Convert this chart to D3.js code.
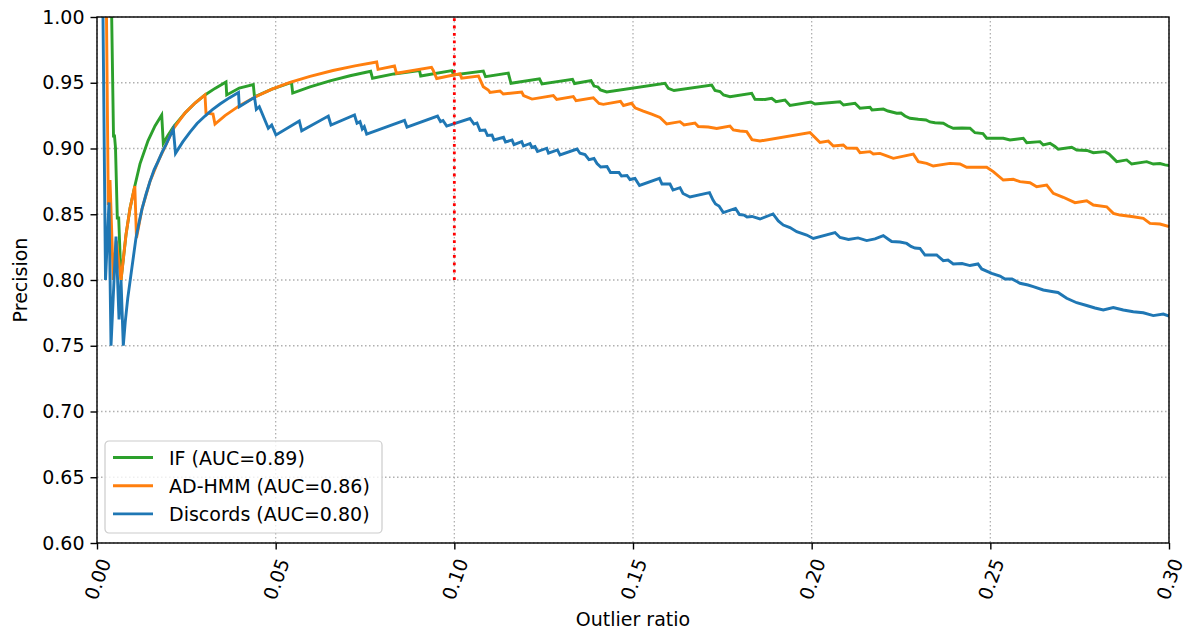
<!DOCTYPE html>
<html>
<head>
<meta charset="utf-8">
<script src="https://cdn.jsdelivr.net/npm/d3@7"></script>
<style>
  html, body { margin: 0; padding: 0; background: #fff; }
  svg text { font-family: "DejaVu Sans", sans-serif; fill: #000; }
</style>
</head>
<body>
<svg id="chart" width="1187" height="630"></svg>
<script>
// Precision vs. outlier ratio for three detectors: [outlier ratio, precision]
const ifCurve = [
  [0.00411,1.000],[0.00462,0.9095],[0.00490,0.9095],[0.00518,0.9004],[0.00568,0.8471],[0.00607,0.8471],
  [0.00672,0.800],[0.00812,0.8345],[0.00924,0.8545],[0.01058,0.8715],[0.01203,0.8883],[0.01427,0.9058],
  [0.01623,0.9172],[0.01811,0.9255],[0.01855,0.9040],[0.01987,0.9100],[0.02135,0.9162],[0.02463,0.9270],
  [0.02743,0.9346],[0.03022,0.9407],[0.03302,0.9457],[0.03610,0.9506],[0.03630,0.9407],[0.03982,0.9460],
  [0.04374,0.9486],[0.04408,0.9392],[0.04897,0.9451],[0.05443,0.9502],[0.05477,0.9422],[0.05961,0.9469],
  [0.06520,0.9514],[0.07080,0.9553],[0.07659,0.9587],[0.07710,0.9534],[0.08311,0.9567],[0.09025,0.9593],
  [0.09059,0.9551],[0.09934,0.9593],[0.09977,0.9559],[0.10811,0.9589],[0.10872,0.9546],[0.11510,0.9574],
  [0.11586,0.9496],[0.12383,0.9529],[0.12453,0.9491],[0.13307,0.9526],[0.13363,0.9494],[0.13825,0.9516],
  [0.13909,0.9475],[0.14020,0.9468],[0.14090,0.9445],[0.14264,0.9430],[0.15895,0.9496],[0.15988,0.9458],
  [0.16148,0.9441],[0.17202,0.9483],[0.17295,0.9441],[0.17435,0.9433],[0.17533,0.9407],[0.17714,0.9394],
  [0.18322,0.9420],[0.18414,0.9374],[0.18694,0.9373],[0.18882,0.9382],[0.19002,0.9356],[0.19254,0.9369],
  [0.19393,0.9327],[0.19981,0.9354],[0.20093,0.9338],[0.20793,0.9356],[0.20891,0.9331],[0.21213,0.9344],
  [0.21353,0.9306],[0.21633,0.9313],[0.21689,0.9293],[0.22005,0.9300],[0.22136,0.9285],[0.22380,0.9268],
  [0.22500,0.9270],[0.22612,0.9247],[0.22752,0.9230],[0.22984,0.9222],[0.23200,0.9217],[0.23311,0.9202],
  [0.23451,0.9196],[0.23684,0.9192],[0.23815,0.9171],[0.23963,0.9154],[0.24207,0.9156],[0.24431,0.9154],
  [0.24570,0.9120],[0.24794,0.9114],[0.24898,0.9078],[0.25363,0.9078],[0.25550,0.9065],[0.25922,0.9078],
  [0.26017,0.9044],[0.26390,0.9052],[0.26482,0.9027],[0.26670,0.9040],[0.26810,0.9015],[0.26902,0.8994],
  [0.27277,0.9009],[0.27417,0.8989],[0.27705,0.8985],[0.27882,0.8968],[0.28209,0.8976],[0.28321,0.8958],
  [0.28536,0.8900],[0.28816,0.8913],[0.28956,0.8882],[0.29376,0.8900],[0.29561,0.8882],[0.29748,0.8886],
  [0.29888,0.8875],[0.30000,0.8871]
];

const hmmCurve = [
  [0.00266,1.000],[0.00316,0.857],[0.00364,0.876],[0.00456,0.800],[0.00540,0.830],[0.00672,0.800],
  [0.00812,0.8345],[0.00924,0.8545],[0.01058,0.8715],[0.01105,0.832],[0.01259,0.854],[0.01483,0.875],
  [0.01707,0.890],[0.01931,0.903],[0.02135,0.915],[0.02463,0.927],[0.02743,0.9346],[0.03022,0.9407],
  [0.03050,0.9270],[0.03246,0.9262],[0.03302,0.9186],[0.03582,0.9250],[0.03988,0.9326],[0.04422,0.9392],
  [0.04897,0.9451],[0.05401,0.9502],[0.05961,0.9549],[0.06604,0.9593],[0.07220,0.9628],[0.07827,0.9658],
  [0.07864,0.9602],[0.08325,0.9627],[0.08381,0.9572],[0.09361,0.9617],[0.09403,0.9597],[0.09506,0.9532],
  [0.09977,0.9559],[0.10159,0.9567],[0.10206,0.9534],[0.10676,0.9551],[0.10810,0.9470],[0.10950,0.9445],
  [0.10998,0.9427],[0.11278,0.9437],[0.11370,0.9414],[0.11885,0.9430],[0.11936,0.9403],[0.12174,0.9376],
  [0.12770,0.9403],[0.12865,0.9373],[0.13329,0.9395],[0.13405,0.9364],[0.13889,0.9386],[0.14049,0.9342],
  [0.14169,0.9336],[0.14650,0.9359],[0.14734,0.9327],[0.14963,0.9344],[0.15056,0.9310],[0.15288,0.9285],
  [0.15523,0.9262],[0.15755,0.9236],[0.15943,0.9186],[0.16315,0.9204],[0.16427,0.9179],[0.16735,0.9194],
  [0.16827,0.9167],[0.17107,0.9163],[0.17342,0.9152],[0.17714,0.9171],[0.17807,0.9141],[0.17994,0.9133],
  [0.18182,0.9128],[0.18330,0.9068],[0.18554,0.9057],[0.19953,0.9122],[0.20093,0.9084],[0.20233,0.9046],
  [0.20466,0.9056],[0.20606,0.9019],[0.20886,0.9027],[0.20980,0.9004],[0.21260,0.9002],[0.21353,0.8968],
  [0.21633,0.8976],[0.21725,0.8958],[0.21912,0.8963],[0.22100,0.8944],[0.22285,0.8925],[0.22844,0.8958],
  [0.22984,0.8900],[0.23218,0.8887],[0.23403,0.8867],[0.23871,0.8887],[0.24151,0.8882],[0.24338,0.8857],
  [0.24898,0.8857],[0.25082,0.8824],[0.25362,0.8760],[0.25642,0.8766],[0.25830,0.8748],[0.26110,0.8740],
  [0.26297,0.8710],[0.26577,0.8722],[0.26762,0.8659],[0.27042,0.8629],[0.27369,0.8588],[0.27697,0.8603],
  [0.27882,0.8570],[0.28257,0.8557],[0.28442,0.8507],[0.28629,0.8494],[0.29002,0.8481],[0.29281,0.8469],
  [0.29468,0.8431],[0.29748,0.8426],[0.30000,0.8407]
];

const discordsCurve = [
  [0.00168,1.000],[0.00238,0.800],[0.00336,0.859],[0.00392,0.750],[0.00532,0.833],[0.00616,0.770],
  [0.00672,0.800],[0.00736,0.750],[0.00790,0.768],[0.00860,0.786],[0.00960,0.806],[0.01091,0.832],
  [0.01180,0.844],[0.01259,0.854],[0.01370,0.865],[0.01483,0.875],[0.01600,0.884],[0.01707,0.890],
  [0.01820,0.897],[0.01931,0.903],[0.02135,0.915],[0.02197,0.8963],[0.02400,0.905],[0.02603,0.9125],
  [0.02800,0.9190],[0.03022,0.9247],[0.03230,0.9295],[0.03442,0.9338],[0.03700,0.9385],[0.03960,0.9426],
  [0.03982,0.9318],[0.04408,0.9389],[0.04458,0.9297],
  [0.04542,0.9318],[0.04794,0.9154],[0.04889,0.9179],[0.05009,0.9103],[0.05661,0.9209],[0.05729,0.9135],
  [0.06473,0.9247],[0.06548,0.9179],[0.07206,0.9255],[0.07276,0.9192],[0.07360,0.9204],[0.07424,0.9148],
  [0.07480,0.9166],[0.07547,0.9110],[0.08605,0.9214],[0.08675,0.9163],[0.09529,0.9247],[0.09613,0.9204],
  [0.09683,0.9213],[0.09786,0.9171],[0.10438,0.9228],[0.10550,0.9186],[0.10634,0.9194],[0.10718,0.9137],
  [0.10858,0.9141],[0.10928,0.9099],[0.11054,0.9103],[0.11110,0.9065],[0.11376,0.9085],[0.11432,0.9049],
  [0.11614,0.9065],[0.11670,0.9030],[0.11885,0.9053],[0.11936,0.9019],[0.12118,0.9038],[0.12174,0.9008],
  [0.12257,0.9015],[0.12327,0.8977],[0.12585,0.9002],[0.12635,0.8964],[0.12887,0.8989],[0.12957,0.8951],
  [0.13433,0.8996],[0.13517,0.8964],[0.13657,0.8954],[0.13768,0.8916],[0.13908,0.8924],[0.13993,0.8886],
  [0.14096,0.8859],[0.14273,0.8863],[0.14370,0.8817],[0.14608,0.8817],[0.14678,0.8791],[0.14832,0.8795],
  [0.14916,0.8764],[0.15056,0.8772],[0.15182,0.8719],[0.15741,0.8773],[0.15811,0.8730],[0.16035,0.8730],
  [0.16120,0.8684],[0.16315,0.8702],[0.16399,0.8658],[0.16595,0.8631],[0.17141,0.8664],[0.17239,0.8608],
  [0.17309,0.8578],[0.17407,0.8563],[0.17527,0.8513],[0.17868,0.8544],[0.17980,0.8498],[0.18106,0.8494],
  [0.18190,0.8479],[0.18330,0.8483],[0.18554,0.8464],[0.18918,0.8502],[0.19066,0.8449],[0.19206,0.8418],
  [0.19393,0.8399],[0.19581,0.8367],[0.19861,0.8342],[0.20046,0.8316],[0.20653,0.8361],[0.20793,0.8323],
  [0.21031,0.8308],[0.21297,0.8320],[0.21540,0.8300],[0.21772,0.8312],[0.22005,0.8337],[0.22136,0.8312],
  [0.22239,0.8293],[0.22472,0.8289],[0.22659,0.8278],[0.22779,0.8255],[0.22891,0.8243],[0.23031,0.8240],
  [0.23171,0.8190],[0.23498,0.8190],[0.23683,0.8147],[0.23815,0.8152],[0.23963,0.8122],[0.24207,0.8125],
  [0.24431,0.8110],[0.24655,0.8122],[0.24758,0.8084],[0.25038,0.8051],[0.25270,0.8030],[0.25410,0.8008],
  [0.25606,0.8008],[0.25830,0.7975],[0.26054,0.7962],[0.26202,0.7949],[0.26482,0.7924],[0.26762,0.7911],
  [0.26893,0.7905],[0.27137,0.7861],[0.27417,0.7827],[0.27696,0.7806],[0.27929,0.7787],[0.28161,0.7772],
  [0.28441,0.7791],[0.28721,0.7772],[0.29001,0.7759],[0.29281,0.7751],[0.29561,0.7729],[0.29841,0.7741],
  [0.30000,0.7726]
];

const methods = ["IF", "AD-HMM", "Discords"];
const aucScores = [0.89, 0.86, 0.80];
const curves = [ifCurve, hmmCurve, discordsCurve];
const colors = ["#2ca02c", "#ff7f0e", "#1f77b4"];

const xTicks = [0, 0.05, 0.10, 0.15, 0.20, 0.25, 0.30];
const yTicks = [0.60, 0.65, 0.70, 0.75, 0.80, 0.85, 0.90, 0.95, 1.00];
const cutoffRatio = 0.10;          // vertical marker position
const cutoffRange = [0.80, 1.00];  // vertical extent of the marker

const W = 1187, H = 630;
const margin = { top: 17, right: 18, bottom: 87, left: 97 };
const iw = W - margin.left - margin.right;
const ih = H - margin.top - margin.bottom;
const FONT = 19;
const LW = 2.9;

const svg = d3.select("#chart");
const g = svg.append("g").attr("transform", `translate(${margin.left},${margin.top})`);

const x = d3.scaleLinear().domain([0, 0.30]).range([0, iw]);
const y = d3.scaleLinear().domain([0.60, 1.00]).range([ih, 0]);

// Dotted grid
const grid = g.append("g").attr("class", "grid");
grid.selectAll("line.gx").data(xTicks).join("line")
  .attr("x1", d => x(d)).attr("x2", d => x(d)).attr("y1", 0).attr("y2", ih)
  .attr("stroke", "#b0b0b0").attr("stroke-width", 1.3).attr("stroke-dasharray", "1.5,2.5");
grid.selectAll("line.gy").data(yTicks).join("line")
  .attr("y1", d => y(d)).attr("y2", d => y(d)).attr("x1", 0).attr("x2", iw)
  .attr("stroke", "#b0b0b0").attr("stroke-width", 1.3).attr("stroke-dasharray", "1.5,2.5");

// Clip curves to the plotting area
svg.append("defs").append("clipPath").attr("id", "plotClip")
  .append("rect").attr("x", 0).attr("y", 0).attr("width", iw).attr("height", ih);

const line = d3.line().x(d => x(d[0])).y(d => y(d[1]));

const plot = g.append("g").attr("clip-path", "url(#plotClip)");
curves.forEach((c, i) => {
  plot.append("path").datum(c)
    .attr("d", line)
    .attr("fill", "none")
    .attr("stroke", colors[i])
    .attr("stroke-width", LW)
    .attr("stroke-linejoin", "miter")
    .attr("stroke-linecap", "butt");
});

// Red dotted cutoff marker
plot.append("line")
  .attr("x1", x(cutoffRatio)).attr("x2", x(cutoffRatio))
  .attr("y1", y(cutoffRange[0])).attr("y2", y(cutoffRange[1]))
  .attr("stroke", "#ff0000").attr("stroke-width", 2.8).attr("stroke-dasharray", "2.8,4.6");

// Axes
const xAxis = g.append("g").attr("transform", `translate(0,${ih})`)
  .call(d3.axisBottom(x).tickValues(xTicks).tickFormat(d3.format(".2f")).tickSize(6.5).tickPadding(6));
xAxis.select(".domain").remove();
xAxis.selectAll(".tick line").attr("stroke", "#000").attr("stroke-width", 1.4);
xAxis.selectAll(".tick text")
  .attr("font-size", FONT)
  .attr("text-anchor", "middle")
  .attr("dominant-baseline", "central")
  .attr("y", 0).attr("dy", 0)
  .attr("transform", "translate(0,36) rotate(-70)");

const yAxis = g.append("g")
  .call(d3.axisLeft(y).tickValues(yTicks).tickFormat(d3.format(".2f")).tickSize(6.5).tickPadding(6));
yAxis.select(".domain").remove();
yAxis.selectAll(".tick line").attr("stroke", "#000").attr("stroke-width", 1.4);
yAxis.selectAll(".tick text").attr("font-size", FONT);

// Frame
g.append("rect").attr("x", 0).attr("y", 0).attr("width", iw).attr("height", ih)
  .attr("fill", "none").attr("stroke", "#000").attr("stroke-width", 1.4);

// Axis titles
svg.append("text")
  .attr("x", margin.left + iw / 2).attr("y", 626)
  .attr("text-anchor", "middle").attr("font-size", FONT)
  .text("Outlier ratio");
svg.append("text")
  .attr("transform", `translate(27,${margin.top + ih / 2}) rotate(-90)`)
  .attr("text-anchor", "middle").attr("font-size", FONT)
  .text("Precision");

// Legend
const legend = g.append("g").attr("transform", "translate(8,424)");
legend.append("rect")
  .attr("x", 0).attr("y", 0).attr("width", 277).attr("height", 92).attr("rx", 4)
  .attr("fill", "#fff").attr("fill-opacity", 0.8)
  .attr("stroke", "#cccccc").attr("stroke-width", 1.2);
methods.forEach((m, i) => {
  const ly = 16.5 + i * 28.2;
  legend.append("line")
    .attr("x1", 8).attr("x2", 48).attr("y1", ly).attr("y2", ly)
    .attr("stroke", colors[i]).attr("stroke-width", LW);
  legend.append("text")
    .attr("x", 64).attr("y", ly).attr("dominant-baseline", "central")
    .attr("font-size", FONT)
    .text(`${m} (AUC=${aucScores[i].toFixed(2)})`);
});
</script>
</body>
</html>
